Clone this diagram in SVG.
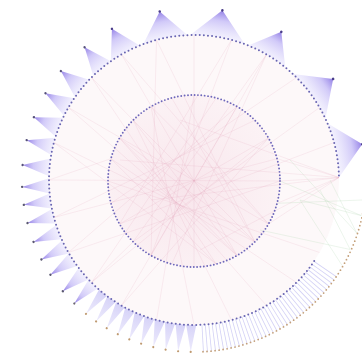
<svg xmlns="http://www.w3.org/2000/svg" xmlns:xlink="http://www.w3.org/1999/xlink" width="362" height="357" viewBox="0 0 362 357">
<style>
.edge{stroke:#dc9cb2;stroke-width:.8;stroke-opacity:.2;fill:none}
.gedge{stroke:#b9dcb9;stroke-width:.7;stroke-opacity:.4;fill:none}
</style>
<defs>
<linearGradient id="fanG" gradientUnits="userSpaceOnUse" x1="145" y1="0" x2="172" y2="0">
<stop offset="0" stop-color="#e4e0fc" stop-opacity=".5"/>
<stop offset=".6" stop-color="#c2b8f6" stop-opacity=".75"/>
<stop offset="1" stop-color="#8c78e4" stop-opacity=".95"/>
</linearGradient>
<linearGradient id="thinG" gradientUnits="userSpaceOnUse" x1="145" y1="0" x2="172" y2="0">
<stop offset="0" stop-color="#ccc8f6" stop-opacity=".8"/>
<stop offset="1" stop-color="#e0dcfa" stop-opacity=".6"/>
</linearGradient>
<radialGradient id="pinkDisc" cx="0.45" cy="0.55" r="0.6">
<stop offset="0" stop-color="#f0c8d6" stop-opacity=".4"/>
<stop offset="1" stop-color="#f6dde6" stop-opacity=".2"/>
</radialGradient>
<g id="f11"><path d="M172 0L142.33 -27.67A145 145 0 0 1 142.33 27.67Z" fill="url(#fanG)"/><circle cx="172" cy="0" r="1.3" fill="#4a3d8a"/></g>
<g id="f9"><path d="M172 0L143.22 -22.68A145 145 0 0 1 143.22 22.68Z" fill="url(#fanG)"/><circle cx="172" cy="0" r="1.3" fill="#4a3d8a"/></g>
<g id="f85"><path d="M172 0L143.41 -21.43A145 145 0 0 1 143.41 21.43Z" fill="url(#fanG)"/><circle cx="172" cy="0" r="1.3" fill="#4a3d8a"/></g>
<g id="f65"><path d="M172 0L144.07 -16.41A145 145 0 0 1 144.07 16.41Z" fill="url(#fanG)"/><circle cx="172" cy="0" r="1.2" fill="#4a3d8a"/></g>
<g id="f45"><path d="M172 0L144.55 -11.38A145 145 0 0 1 144.55 11.38Z" fill="url(#fanG)"/><circle cx="172" cy="0" r="1.2" fill="#55507a"/></g>
<g id="f4"><path d="M172 0L144.65 -10.12A145 145 0 0 1 144.65 10.12Z" fill="url(#fanG)"/><circle cx="172" cy="0" r="1.2" fill="#55507a"/></g>
<g id="f35"><path d="M172 0L144.73 -8.85A145 145 0 0 1 144.73 8.85Z" fill="url(#fanG)"/><circle cx="172" cy="0" r="1.2" fill="#55507a"/></g>
<g id="f3"><path d="M172 0L144.80 -7.59A145 145 0 0 1 144.80 7.59Z" fill="url(#fanG)"/><circle cx="172" cy="0" r="1.2" fill="#5a5870"/></g>
<g id="f25"><path d="M172 0L144.86 -6.33A145 145 0 0 1 144.86 6.33Z" fill="url(#fanG)"/><circle cx="172" cy="0" r="1.1" fill="#6a6670"/></g>
<g id="o2"><path d="M172 0L144.91 -5.06A145 145 0 0 1 144.91 5.06Z" fill="url(#thinG)"/><circle cx="172" cy="0" r="1.1" fill="#bf9a70"/></g>
</defs>
<rect width="362" height="357" fill="#ffffff"/>
<g id="background">
<circle cx="194" cy="180" r="145" fill="#fdf8f9"/>
<circle cx="194" cy="181" r="86" fill="url(#pinkDisc)"/>
</g>
<g id="connectors">
<g id="edges">
<line class="edge" x1="156.5" y1="39.9" x2="151" y2="255.5"/>
<line class="edge" x1="121.5" y1="54.4" x2="237" y2="255.5"/>
<line class="edge" x1="231.5" y1="39.9" x2="119.5" y2="224"/>
<line class="edge" x1="266.5" y1="54.4" x2="171.7" y2="264.1"/>
<line class="edge" x1="296.5" y1="77.5" x2="110.9" y2="203.3"/>
<line class="edge" x1="68.4" y1="107.5" x2="268.5" y2="224"/>
<line class="edge" x1="53.9" y1="142.5" x2="254.8" y2="241.8"/>
<line class="edge" x1="53.9" y1="217.5" x2="254.8" y2="120.2"/>
<line class="edge" x1="68.4" y1="252.5" x2="237" y2="106.5"/>
<line class="edge" x1="91.5" y1="282.5" x2="216.3" y2="97.9"/>
<line class="edge" x1="121.5" y1="305.6" x2="268.5" y2="138"/>
<line class="edge" x1="156.5" y1="320.1" x2="194" y2="95"/>
<line class="edge" x1="231.5" y1="320.1" x2="133.2" y2="120.2"/>
<line class="edge" x1="266.5" y1="305.6" x2="119.5" y2="138"/>
<line class="edge" x1="296.5" y1="282.5" x2="110.9" y2="158.7"/>
<line class="edge" x1="319.6" y1="252.5" x2="108" y2="181"/>
<line class="edge" x1="194" y1="35" x2="194" y2="267"/>
<line class="edge" x1="91.5" y1="77.5" x2="216.3" y2="264.1"/>
<line class="edge" x1="49" y1="180" x2="280" y2="181"/>
<line class="edge" x1="319.6" y1="107.5" x2="133.2" y2="241.8"/>
<line class="edge" x1="334.1" y1="142.5" x2="119.5" y2="224"/>
<line class="edge" x1="121.5" y1="54.4" x2="268.5" y2="224"/>
<line class="edge" x1="156.5" y1="39.9" x2="254.8" y2="241.8"/>
<line class="edge" x1="68.4" y1="107.5" x2="237" y2="255.5"/>
<line class="edge" x1="53.9" y1="217.5" x2="277.1" y2="158.7"/>
<line class="edge" x1="68.4" y1="252.5" x2="280" y2="181"/>
<line class="edge" x1="194" y1="325" x2="151" y2="106.5"/>
<line class="edge" x1="91.5" y1="282.5" x2="268.5" y2="138"/>
<line class="edge" x1="121.5" y1="305.6" x2="237" y2="106.5"/>
<line class="edge" x1="231.5" y1="39.9" x2="151" y2="255.5"/>
<line class="edge" x1="266.5" y1="54.4" x2="133.2" y2="241.8"/>
<line class="edge" x1="53.9" y1="142.5" x2="216.3" y2="264.1"/>
<line class="edge" x1="91.5" y1="77.5" x2="133.2" y2="120.2"/>
<line class="edge" x1="49" y1="180" x2="110.9" y2="158.7"/>
<line class="edge" x1="91.5" y1="282.5" x2="133.2" y2="241.8"/>
<line class="edge" x1="266.5" y1="54.4" x2="237" y2="106.5"/>
<line class="edge" x1="339" y1="177.5" x2="277.1" y2="158.7"/>
<line class="edge" x1="339" y1="177.5" x2="280" y2="181"/>
<line class="edge" x1="339" y1="177.5" x2="277.1" y2="203.3"/>
<line class="edge" x1="339" y1="177.5" x2="268.5" y2="224"/>
<line class="edge" x1="339" y1="177.5" x2="151" y2="200"/>
<line class="edge" x1="339" y1="177.5" x2="120" y2="160"/>
<line class="edge" x1="339" y1="177.5" x2="200" y2="250"/>
<line class="edge" x1="339" y1="177.5" x2="180" y2="120"/>
<line class="edge" x1="133.2" y1="120.2" x2="254.8" y2="241.8"/>
<line class="edge" x1="119.5" y1="138" x2="237" y2="255.5"/>
<line class="edge" x1="151" y1="106.5" x2="268.5" y2="224"/>
<line class="edge" x1="110.9" y1="158.7" x2="216.3" y2="264.1"/>
<line class="edge" x1="171.7" y1="97.9" x2="254.8" y2="241.8"/>
<line class="edge" x1="133.2" y1="120.2" x2="237" y2="255.5"/>
<line class="edge" x1="119.5" y1="138" x2="254.8" y2="241.8"/>
<line class="edge" x1="237" y1="106.5" x2="151" y2="255.5"/>
<line class="edge" x1="268.5" y1="138" x2="119.5" y2="224"/>
</g>
<g id="green-edges">
<line class="gedge" x1="361.3" y1="215.6" x2="300" y2="200"/>
<line class="gedge" x1="361.3" y1="215.6" x2="280" y2="181"/>
<line class="gedge" x1="356.6" y1="232.8" x2="330" y2="180"/>
<line class="gedge" x1="356.6" y1="232.8" x2="290" y2="160"/>
<line class="gedge" x1="350.2" y1="249.5" x2="260" y2="230"/>
<line class="gedge" x1="350.2" y1="249.5" x2="320" y2="190"/>
<line class="gedge" x1="342.1" y1="265.5" x2="300" y2="200"/>
<line class="gedge" x1="362" y1="200" x2="277.1" y2="203.3"/>
</g>
<g id="fans" transform="translate(194,180)">
<use href="#f11" transform="rotate(-12)"/>
<use href="#f11" transform="rotate(-36)"/>
<use href="#f85" transform="rotate(-59.5)"/>
<use href="#f11" transform="rotate(-80.5)"/>
<use href="#f9" transform="rotate(-101.5)"/>
<use href="#f65" transform="rotate(-118.5)"/>
<use href="#f45" transform="rotate(-129.5)"/>
<use href="#f45" transform="rotate(-140.7)"/>
<use href="#f4" transform="rotate(-149.7)"/>
<use href="#f4" transform="rotate(-158.6)"/>
<use href="#f35" transform="rotate(-166.6)"/>
<use href="#f35" transform="rotate(-175)"/>
<use href="#f3" transform="rotate(177.7)"/>
<use href="#f3" transform="rotate(171.7)"/>
<use href="#f3" transform="rotate(165.5)"/>
<use href="#f3" transform="rotate(158.9)"/>
<use href="#f3" transform="rotate(152.5)"/>
<use href="#f3" transform="rotate(146.6)"/>
<use href="#f3" transform="rotate(139.7)"/>
<use href="#f25" transform="rotate(134.1)"/>
<use href="#o2" transform="rotate(128.9)"/>
<use href="#o2" transform="rotate(124.7)"/>
<use href="#o2" transform="rotate(120.5)"/>
<use href="#o2" transform="rotate(116.3)"/>
<use href="#o2" transform="rotate(112.1)"/>
<use href="#o2" transform="rotate(107.9)"/>
<use href="#o2" transform="rotate(103.7)"/>
<use href="#o2" transform="rotate(99.5)"/>
<use href="#o2" transform="rotate(95.3)"/>
<use href="#o2" transform="rotate(91.1)"/>
</g>
<path id="radial-links" d="M202.30 338.28A158.5 158.5 0 0 0 325.40 268.63" fill="none" stroke="#bcb8f0" stroke-opacity=".65" stroke-width="27" stroke-dasharray="0.8 2.9346"/>
</g>
<g id="leaf-nodes">
<path d="M203.00 351.76A172 172 0 0 0 364.33 203.94" fill="none" stroke="#c4a07a" stroke-width="1.8" stroke-linecap="round" stroke-dasharray="0 4.0527"/>
</g>
<g id="outer-ring-nodes">
<path d="M314.21 261.08A145 145 0 1 1 338.98 177.47" fill="none" stroke="#6a66b2" stroke-width="2" stroke-linecap="round" stroke-dasharray="0 4.1"/>
</g>
<g id="inner-ring-nodes">
<circle cx="194" cy="181" r="86" fill="none" stroke="#6f68bb" stroke-width="1.9" stroke-linecap="round" stroke-dasharray="0 3.377"/>
</g>
</svg>
